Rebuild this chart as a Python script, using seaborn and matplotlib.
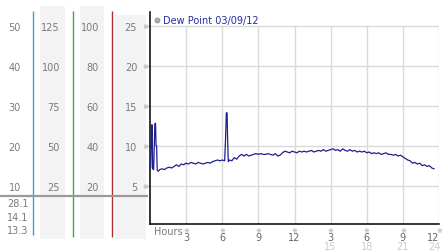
import matplotlib
matplotlib.use('Agg')
import matplotlib.pyplot as plt
import matplotlib.transforms as mtransforms
from matplotlib.lines import Line2D
from matplotlib.patches import Rectangle
import seaborn as sns
import pandas as pd

# ---------------- data ----------------
hours = [0.0, 0.06, 0.10, 0.14, 0.18, 0.22, 0.30, 0.36, 0.40, 0.46, 0.50, 0.55, 0.60, 0.70,
         0.8, 1.0, 1.2, 1.4, 1.6, 1.8, 2.0, 2.2, 2.4, 2.6, 2.8, 3.0, 3.2, 3.4, 3.6, 3.8,
         4.0, 4.2, 4.4, 4.6, 4.8, 5.0, 5.2, 5.4, 5.6, 5.8, 6.0, 6.2,
         6.28, 6.34, 6.40, 6.44, 6.5,
         6.6, 6.8, 7.0, 7.2, 7.4, 7.6, 7.8, 8.0, 8.2, 8.4, 8.6, 8.8, 9.0, 9.2, 9.4, 9.6, 9.8,
         10.0, 10.2, 10.4, 10.6, 10.8, 11.0, 11.2, 11.4, 11.6, 11.8, 12.0, 12.2, 12.4, 12.6, 12.8,
         13.0, 13.2, 13.4, 13.6, 13.8, 14.0, 14.2, 14.4, 14.6, 14.8, 15.0, 15.2, 15.4, 15.6, 15.8,
         16.0, 16.2, 16.4, 16.6, 16.8, 17.0, 17.2, 17.4, 17.6, 17.8, 18.0, 18.2, 18.4, 18.6, 18.8,
         19.0, 19.2, 19.4, 19.6, 19.8, 20.0, 20.2, 20.4, 20.6, 20.8, 21.0, 21.2, 21.4, 21.6, 21.8,
         22.0, 22.2, 22.4, 22.6, 22.8, 23.0, 23.2, 23.4, 23.6]
dew_point = [7.3, 7.2, 10.0, 12.6, 12.6, 7.1, 7.0, 10.0, 12.7, 12.8, 10.0, 10.0, 6.9, 6.8,
             7.0, 7.1, 7.0, 7.2, 7.3, 7.2, 7.4, 7.6, 7.4, 7.7, 7.6, 7.8, 7.7, 7.9, 7.8, 7.7,
             7.9, 7.8, 7.7, 7.8, 7.9, 7.8, 8.0, 8.1, 8.2, 8.1, 8.2, 8.1,
             11.1, 14.1, 14.1, 11.1, 8.0,
             8.2, 8.1, 8.5, 8.3, 8.7, 8.9, 8.7, 8.9, 8.7, 8.8, 8.9, 9.0, 8.9, 9.0, 8.9, 8.9, 9.0,
             8.9, 8.8, 9.0, 8.7, 8.8, 9.1, 9.3, 9.2, 9.1, 9.3, 9.2, 9.1, 9.3, 9.2, 9.3,
             9.2, 9.3, 9.4, 9.2, 9.3, 9.4, 9.3, 9.5, 9.3, 9.4, 9.5, 9.6, 9.4, 9.5, 9.3,
             9.6, 9.4, 9.3, 9.5, 9.3, 9.4, 9.2, 9.3, 9.2, 9.3, 9.1, 9.2, 9.0, 9.1, 9.0,
             9.1, 8.9, 9.0, 9.1, 8.9, 8.9, 8.8, 8.9, 8.7, 8.8, 8.6, 8.4, 8.2, 8.1, 7.8,
             7.9, 7.7, 7.8, 7.5, 7.6, 7.4, 7.5, 7.2, 7.1]

x_ticks = [3, 6, 9, 12, 15, 18, 21, 24]
x_tick_labels = ['3', '6', '9', '12', '3', '6', '9', '12']
x_tick_labels_24h = ['15', '18', '21', '24']
y_ticks = [5, 10, 15, 20, 25]
scale_a = [10, 20, 30, 40, 50]
scale_b = [25, 50, 75, 100, 125]
scale_c = [20, 40, 60, 80, 100]
stats_labels = ['28.1', '14.1', '13.3']
legend_label = 'Dew Point 03/09/12'

# ---------------- layout ----------------
W, H = 442, 253
sns.set_theme(style='white')
plt.rcParams['font.family'] = ['DejaVu Sans']
fig = plt.figure(figsize=(W / 100, H / 100), dpi=100)


def fx(px):
    return px / W


def fy(py):
    return 1 - py / H


AX_L, AX_R, AX_T, AX_B = 150, 439, 13, 225
YLO, YHI = 0.2, 26.7
GRID = '#dadada'
LAB = '#7a7a7a'

# background decorations (scale columns)
bg = fig.add_axes([0, 0, 1, 1], zorder=-5)
bg.set_xlim(0, W)
bg.set_ylim(H, 0)
bg.axis('off')
for (x0, x1, y0, y1) in [(40, 65, 7, 240), (80, 104, 7, 240), (115, 146, 16, 240)]:
    bg.add_patch(Rectangle((x0, y0), x1 - x0, y1 - y0, color='#f3f3f3', lw=0))
for x, c, y1 in [(33.3, '#3a9fd0', 236), (72.7, '#3aaa3a', 238), (111.7, '#b03030', 238)]:
    bg.plot([x, x], [12, y1], color=c, lw=1.0, solid_capstyle='butt')
bg.plot([0, 148], [197, 197], color='#9a9a9a', lw=1.6, solid_capstyle='butt')
for lab, y in zip(stats_labels, [204, 218, 231]):
    bg.text(7, y, lab, ha='left', va='center', fontsize=7, color=LAB)

# extra scale columns
for vals, right_px in [(scale_a, 21), (scale_b, 60), (scale_c, 99)]:
    f = vals[0] / y_ticks[0]
    cax = fig.add_axes([fx(right_px), fy(AX_B), 1 / W, (AX_B - AX_T) / H])
    cax.set_ylim(YLO * f, YHI * f)
    cax.set_yticks(vals)
    cax.set_yticklabels([str(v) for v in vals])
    cax.set_xticks([])
    cax.tick_params(axis='y', length=0, pad=0, labelsize=7, labelcolor=LAB)
    for s in cax.spines.values():
        s.set_visible(False)
    cax.patch.set_alpha(0)

# main axes
ax = fig.add_axes([fx(AX_L), fy(AX_B), (AX_R - AX_L) / W, (AX_B - AX_T) / H])
ax.patch.set_alpha(0)
df = pd.DataFrame({'Hours': hours, 'Dew Point': dew_point})
sns.lineplot(data=df, x='Hours', y='Dew Point', ax=ax, color='#1f1f8f', lw=0.9,
             legend=False, zorder=3)
ax.set_xlim(0, 24)
ax.set_ylim(YLO, YHI)
ax.set_xlabel('')
ax.set_ylabel('')
ax.set_xticks(x_ticks)
ax.set_xticklabels(x_tick_labels)
ax.get_xticklabels()[-1].set_horizontalalignment('right')
ax.set_yticks(y_ticks)
ax.set_yticklabels([str(v) for v in y_ticks])
ax.tick_params(axis='x', length=0, pad=5.5, labelsize=7, labelcolor='#666')
ax.tick_params(axis='y', length=2, width=0.8, color='#bbbbbb', pad=7.2, labelsize=7,
               labelcolor=LAB, left=True)
ax.grid(axis='y', color=GRID, lw=1)
ax.grid(axis='x', visible=False)
ax.vlines(x_ticks, 0, y_ticks[-1], color=GRID, lw=1, zorder=0)
for side in ['top', 'right']:
    ax.spines[side].set_visible(False)
for side in ['left', 'bottom']:
    ax.spines[side].set_color('black')
    ax.spines[side].set_linewidth(1.1)

# small tick glyphs
tx = mtransforms.blended_transform_factory(ax.transData, ax.transAxes)
ty = mtransforms.blended_transform_factory(ax.transAxes, ax.transData)
for t in x_ticks:
    ax.text(t, -0.026, '\u203b', transform=tx, ha='center', va='center', fontsize=5,
            color='#a0a0a0', clip_on=False)
for t in y_ticks:
    ax.text(-0.017, t, '\u203b', transform=ty, ha='center', va='center', fontsize=5,
            color='#a0a0a0', clip_on=False)
for i, (t, lab) in enumerate(zip(x_ticks[4:], x_tick_labels_24h)):
    last = i == len(x_tick_labels_24h) - 1
    ax.text(t + (0.1 if last else 0), -0.104, lab, transform=tx,
            ha='right' if last else 'center', va='center', fontsize=7, color='#cccccc')
ax.text(0.014, -0.035, 'Hours', transform=ax.transAxes, ha='left', va='center',
        fontsize=7, color=LAB)

handle = Line2D([], [], marker='o', ls='', markersize=3.5, markerfacecolor='#b0b0b0',
                markeredgecolor='#8a8a8a', markeredgewidth=0.6)
ax.legend([handle], [legend_label], loc='upper left', bbox_to_anchor=(0.01, 0.99),
          frameon=False, fontsize=7, labelcolor='#2a2aa0', handlelength=0.6,
          handletextpad=0.3, borderaxespad=0, borderpad=0.1)

fig.savefig('out.png', dpi=100)
